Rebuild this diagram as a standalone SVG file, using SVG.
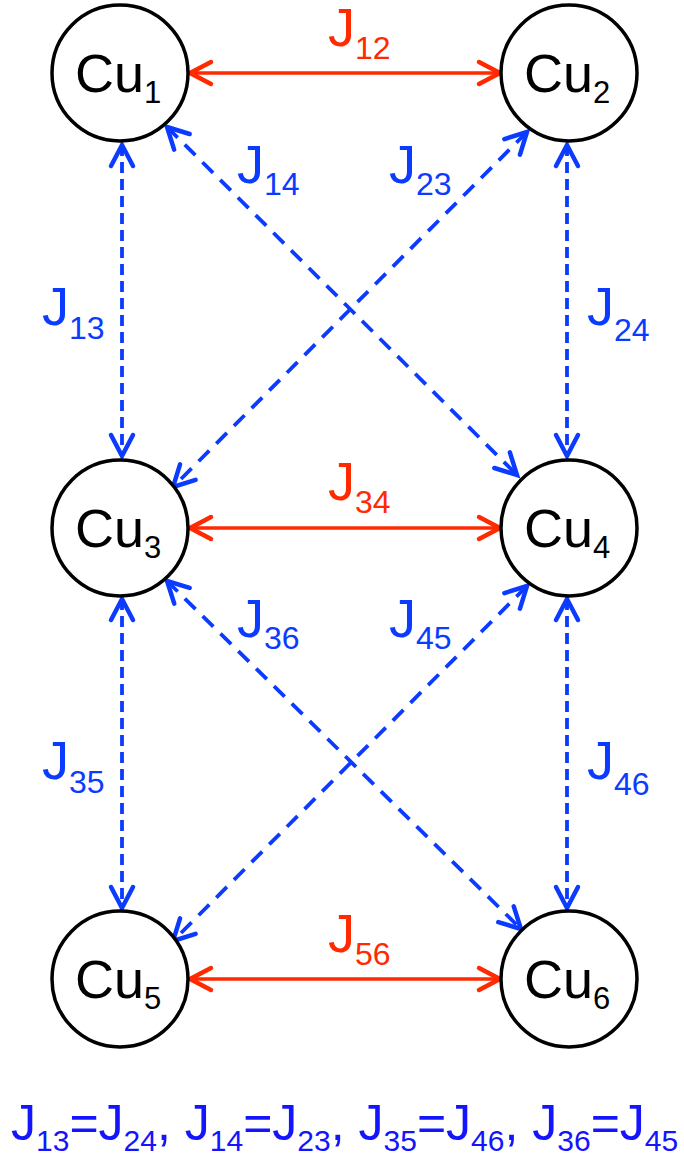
<svg xmlns="http://www.w3.org/2000/svg" width="684" height="1162" viewBox="0 0 684 1162">
<style>
.node circle{fill:#fff;stroke:#000;stroke-width:3.5}
.cu{font-family:"Liberation Sans",Arial,sans-serif;font-size:54px;fill:#000}
.cs{font-size:31px}
.lbl{font-family:"Liberation Sans",Arial,sans-serif;font-size:54px}
.sub{font-size:32px}
.red{fill:#ff2a00}
.blue{fill:#0b3bff}
.r{stroke:#ff2a00;stroke-width:3.5;fill:none}
.b{stroke:#0b3bff;stroke-width:3.8;fill:none;stroke-dasharray:15 10}
.v{stroke-dasharray:11 6}
.eq{font-family:"Liberation Sans",Arial,sans-serif;font-size:50px;fill:#1414ff}
.eqs{font-size:30px}
</style>
<defs>
<marker id="ar" markerUnits="userSpaceOnUse" markerWidth="40" markerHeight="40" viewBox="-30 -20 40 40" refX="0" refY="0" orient="auto-start-reverse" overflow="visible">
<path d="M-21 -11 L0 0 L-21 11" fill="none" stroke="#ff2a00" stroke-width="4.5" stroke-linecap="round" stroke-linejoin="miter"/>
</marker>
<marker id="ab" markerUnits="userSpaceOnUse" markerWidth="40" markerHeight="40" viewBox="-30 -20 40 40" refX="0" refY="0" orient="auto-start-reverse" overflow="visible">
<path d="M-21 -11 L0 0 L-21 11" fill="none" stroke="#0b3bff" stroke-width="4.5" stroke-linecap="round" stroke-linejoin="miter"/>
</marker>
</defs>
<g id="connectors">
<line class="r" x1="190" y1="73" x2="500" y2="73" marker-start="url(#ar)" marker-end="url(#ar)"/>
<line class="r" x1="190" y1="528" x2="500" y2="528" marker-start="url(#ar)" marker-end="url(#ar)"/>
<line class="r" x1="190" y1="979" x2="500" y2="979" marker-start="url(#ar)" marker-end="url(#ar)"/>
<line class="b v" x1="122" y1="145" x2="122" y2="456" marker-start="url(#ab)" marker-end="url(#ab)"/>
<line class="b v" x1="122" y1="599" x2="122" y2="908" marker-start="url(#ab)" marker-end="url(#ab)"/>
<line class="b v" x1="567" y1="145" x2="567" y2="456" marker-start="url(#ab)" marker-end="url(#ab)"/>
<line class="b v" x1="567" y1="599" x2="567" y2="908" marker-start="url(#ab)" marker-end="url(#ab)"/>
<line class="b" x1="167" y1="127" x2="517" y2="475" marker-start="url(#ab)" marker-end="url(#ab)"/>
<line class="b" x1="527" y1="132" x2="173" y2="487" marker-start="url(#ab)" marker-end="url(#ab)"/>
<line class="b" x1="167" y1="581" x2="521" y2="929" marker-start="url(#ab)" marker-end="url(#ab)"/>
<line class="b" x1="527" y1="586" x2="173" y2="941" marker-start="url(#ab)" marker-end="url(#ab)"/>
</g>
<g id="cu1" class="node"><circle cx="120" cy="73" r="68"/><text class="cu" x="75" y="92">Cu<tspan class="cs" dy="11">1</tspan></text></g>
<g id="cu2" class="node"><circle cx="569" cy="73" r="68"/><text class="cu" x="524" y="92">Cu<tspan class="cs" dy="11">2</tspan></text></g>
<g id="cu3" class="node"><circle cx="120" cy="528" r="68"/><text class="cu" x="75" y="547">Cu<tspan class="cs" dy="11">3</tspan></text></g>
<g id="cu4" class="node"><circle cx="569" cy="528" r="68"/><text class="cu" x="524" y="547">Cu<tspan class="cs" dy="11">4</tspan></text></g>
<g id="cu5" class="node"><circle cx="120" cy="979" r="68"/><text class="cu" x="75" y="998">Cu<tspan class="cs" dy="11">5</tspan></text></g>
<g id="cu6" class="node"><circle cx="569" cy="979" r="68"/><text class="cu" x="524" y="998">Cu<tspan class="cs" dy="11">6</tspan></text></g>
<g id="labels">
<text class="lbl red" x="328" y="46">J<tspan class="sub" dy="13">12</tspan></text>
<text class="lbl red" x="328" y="500">J<tspan class="sub" dy="13">34</tspan></text>
<text class="lbl red" x="328" y="952">J<tspan class="sub" dy="13">56</tspan></text>
<text class="lbl blue" x="42" y="325">J<tspan class="sub" dy="14">13</tspan></text>
<text class="lbl blue" x="42" y="779">J<tspan class="sub" dy="14">35</tspan></text>
<text class="lbl blue" x="587" y="325">J<tspan class="sub" dy="16">24</tspan></text>
<text class="lbl blue" x="587" y="779">J<tspan class="sub" dy="16">46</tspan></text>
<text class="lbl blue" x="237" y="183">J<tspan class="sub" dy="12">14</tspan></text>
<text class="lbl blue" x="237" y="637">J<tspan class="sub" dy="12">36</tspan></text>
<text class="lbl blue" x="389" y="183">J<tspan class="sub" dy="12">23</tspan></text>
<text class="lbl blue" x="389" y="637">J<tspan class="sub" dy="12">45</tspan></text>
</g>
<text class="eq" x="11" y="1140">J<tspan class="eqs" dy="11">13</tspan><tspan dy="-11">=J</tspan><tspan class="eqs" dy="11">24</tspan><tspan dy="-11">, J</tspan><tspan class="eqs" dy="11">14</tspan><tspan dy="-11">=J</tspan><tspan class="eqs" dy="11">23</tspan><tspan dy="-11">, J</tspan><tspan class="eqs" dy="11">35</tspan><tspan dy="-11">=J</tspan><tspan class="eqs" dy="11">46</tspan><tspan dy="-11">, J</tspan><tspan class="eqs" dy="11">36</tspan><tspan dy="-11">=J</tspan><tspan class="eqs" dy="11">45</tspan></text>
</svg>
